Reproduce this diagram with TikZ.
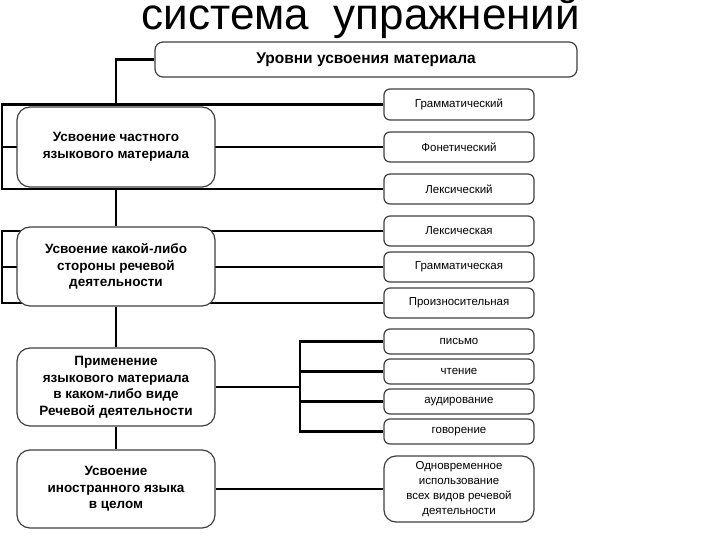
\documentclass[tikz,border=0pt]{standalone}
\usepackage{fontspec}
\setmainfont{Liberation Sans}
\usetikzlibrary{backgrounds}
\tikzset{
  mainbox/.style={draw=black!75, line width=1.2pt, rounded corners=13pt, fill=white,
    minimum width=198pt, minimum height=78pt, align=center,
    font=\fontsize{13.5}{16.5}\selectfont\bfseries, inner sep=2pt},
  subbox/.style={draw=black!75, line width=1.2pt, rounded corners=6pt, fill=white,
    minimum width=150pt, minimum height=30pt, align=center,
    font=\fontsize{11.5}{14.5}\selectfont, inner sep=2pt},
  conn/.style={line width=2.8pt, black},
}
\begin{document}
\begin{tikzpicture}[x=1pt,y=-1pt]
\useasboundingbox (0,0) rectangle (720,540);
\node[anchor=base, font=\fontsize{44}{50}\selectfont] (title) at (361,30) {система\ \ упражнений};
\node[mainbox, minimum width=422pt, minimum height=35pt, rounded corners=8pt, font=\fontsize{15.5}{18}\selectfont\bfseries] (top) at (366,59.5) {Уровни усвоения материала};

\node[mainbox, minimum height=80pt] (b1) at (116,147) {Усвоение частного\\языкового материала};
\node[mainbox, minimum height=79pt] (b2) at (116,266.5) {Усвоение какой-либо\\стороны речевой\\деятельности};
\node[mainbox] (b3) at (116,387) {Применение\\языкового материала\\в каком-либо виде\\Речевой деятельности};
\node[mainbox] (b4) at (116,489) {Усвоение\\иностранного языка\\в целом};

\node[subbox, minimum height=31pt] (r1) at (459,104.5) {Грамматический};
\node[subbox] (r2) at (459,147) {Фонетический};
\node[subbox] (r3) at (459,189) {Лексический};
\node[subbox] (r4) at (459,231) {Лексическая};
\node[subbox] (r5) at (459,267) {Грамматическая};
\node[subbox] (r6) at (459,303) {Произносительная};
\node[subbox, minimum height=25pt] (r7) at (459,341.5) {письмо};
\node[subbox, minimum height=25pt] (r8) at (459,371.5) {чтение};
\node[subbox, minimum height=25pt] (r9) at (459,401.5) {аудирование};
\node[subbox, minimum height=25pt] (r10) at (459,431.5) {говорение};
\node[subbox, minimum height=66pt, rounded corners=12pt, font=\fontsize{11.5}{15}\selectfont] (r11) at (459,489) {Одновременное\\использование\\всех видов речевой\\деятельности};

\coordinate (c1) at (2,147);
\coordinate (c2) at (2,267);
\coordinate (c3) at (300,387);

\begin{pgfonlayer}{background}
\draw[conn] (top.west) -| (b1.north);
\draw[conn] (r1.west) -| (c1) |- (r3.west);
\draw[conn] (c1) -- (r2.west);
\draw[conn] (b1.south) -- (b2.north);
\draw[conn] (r4.west) -| (c2) |- (r6.west);
\draw[conn] (c2) -- (r5.west);
\draw[conn] (b2.south) -- (b3.north);
\draw[conn] (b3.east) -- (c3);
\draw[conn] (r7.west) -| (c3) |- (r10.west);
\draw[conn] (r8.west) -- (r8.west -| c3);
\draw[conn] (r9.west) -- (r9.west -| c3);
\draw[conn] (b3.south) -- (b4.north);
\draw[conn] (b4.east) -- (r11.west);
\end{pgfonlayer}
\end{tikzpicture}
\end{document}
